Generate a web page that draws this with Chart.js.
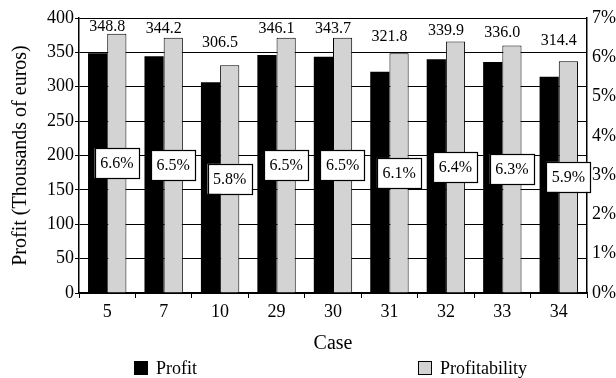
<!DOCTYPE html>
<html>
<head>
<meta charset="utf-8">
<script src="https://cdn.jsdelivr.net/npm/chart.js@4/dist/chart.umd.min.js"></script>
<style>
  html, body { margin: 0; padding: 0; background: #fff; }
  #wrap { width: 616px; height: 378px; }
</style>
</head>
<body>
<div id="wrap"><canvas id="chart" width="616" height="378"></canvas></div>
<script>
// Cases and their results
const cases = ['5', '7', '10', '29', '30', '31', '32', '33', '34'];
const profit = [348.8, 344.2, 306.5, 346.1, 343.7, 321.8, 339.9, 336.0, 314.4];   // thousands of euros
const profitability = [6.6, 6.5, 5.8, 6.5, 6.5, 6.1, 6.4, 6.3, 5.9];             // percent
const profitTicks = [0, 50, 100, 150, 200, 250, 300, 350, 400];
const percentTicks = [0, 1, 2, 3, 4, 5, 6, 7];

const SERIF = "'Liberation Serif'";
Chart.defaults.font.family = SERIF;
Chart.defaults.color = '#000';

// Value labels: profit above each pair, profitability boxed in the middle of the grey bar
const valueLabels = {
  id: 'valueLabels',
  afterDatasetsDraw(chart) {
    const ctx = chart.ctx;
    const area = chart.chartArea;
    const greyBars = chart.getDatasetMeta(1).data;
    const xScale = chart.scales.x;
    ctx.save();
    ctx.textAlign = 'center';
    ctx.textBaseline = 'middle';
    profit.forEach((v, i) => {
      const bar = greyBars[i];
      // profit value centred in the gap above the grey bar
      ctx.font = '16px ' + SERIF;
      ctx.fillStyle = '#000';
      ctx.fillText(v.toFixed(1), xScale.getPixelForValue(i), (area.top + bar.y) / 2 + 1);
      // profitability box
      const txt = profitability[i].toFixed(1) + '%';
      const w = ctx.measureText(txt).width + 11;
      const h = 30;
      const cy = (bar.y + bar.base) / 2;
      ctx.fillStyle = '#fff';
      ctx.fillRect(bar.x - w / 2, cy - h / 2, w, h);
      ctx.strokeStyle = '#000';
      ctx.lineWidth = 1.2;
      ctx.strokeRect(Math.round(bar.x - w / 2) + 0.5, Math.round(cy - h / 2) + 0.5, Math.round(w), h);
      ctx.fillStyle = '#000';
      ctx.fillText(txt, bar.x, cy + 1);
    });
    ctx.restore();
  }
};

// Legend drawn under the axis title, items spread across the plot width
const spreadLegend = {
  id: 'spreadLegend',
  afterDraw(chart) {
    const ctx = chart.ctx;
    const area = chart.chartArea;
    const y = chart.height - 10;
    const items = [
      { text: 'Profit', fill: '#000', x: area.left + 55 },
      { text: 'Profitability', fill: '#d3d3d3', x: area.left + 339 }
    ];
    ctx.save();
    ctx.font = '18px ' + SERIF;
    ctx.textBaseline = 'middle';
    ctx.textAlign = 'left';
    items.forEach(it => {
      ctx.fillStyle = it.fill;
      ctx.fillRect(it.x, y - 7, 14, 14);
      ctx.strokeStyle = '#000';
      ctx.lineWidth = 1;
      ctx.strokeRect(it.x + 0.5, y - 6.5, 13, 13);
      ctx.fillStyle = '#000';
      ctx.fillText(it.text, it.x + 22, y + 1);
    });
    ctx.restore();
  }
};

new Chart(document.getElementById('chart'), {
  type: 'bar',
  data: {
    labels: cases,
    datasets: [
      {
        label: 'Profit',
        data: profit,
        yAxisID: 'y',
        backgroundColor: '#000',
        borderWidth: 0
      },
      {
        label: 'Profitability',
        data: profitability,
        yAxisID: 'y1',
        backgroundColor: '#d3d3d3',
        borderColor: '#000',
        borderWidth: 1
      }
    ]
  },
  options: {
    responsive: false,
    devicePixelRatio: 1,
    animation: false,
    events: [],
    layout: { padding: { top: 18, left: 0, right: 0, bottom: 22 } },
    datasets: { bar: { categoryPercentage: 0.68, barPercentage: 1.0 } },
    plugins: {
      legend: { display: false },
      tooltip: { enabled: false }
    },
    scales: {
      x: {
        offset: true,
        grid: { offset: true, drawOnChartArea: false, drawTicks: true, tickLength: 5, color: '#000', lineWidth: 1 },
        border: { display: true, color: '#000', width: 1.5 },
        ticks: { font: { size: 18 }, color: '#000', padding: 3, maxRotation: 0 },
        title: { display: true, text: 'Case', font: { size: 20 }, color: '#000', padding: { top: 0, bottom: 0 } },
        afterFit(scale) { scale.height = 63; }
      },
      y: {
        position: 'left',
        min: 0,
        max: 400,
        afterBuildTicks(scale) { scale.ticks = profitTicks.map(v => ({ value: v })); },
        grid: { color: '#000', lineWidth: 1, drawTicks: true, tickLength: 4 },
        border: { display: true, color: '#000', width: 1.5 },
        ticks: { font: { size: 18 }, color: '#000', padding: 1 },
        title: { display: true, text: 'Profit (Thousands of euros)', font: { size: 20 }, color: '#000', padding: { top: 9, bottom: 0 } },
        afterFit(scale) { scale.width = 79; }
      },
      y1: {
        position: 'right',
        min: 0,
        max: 7,
        afterBuildTicks(scale) { scale.ticks = percentTicks.map(v => ({ value: v })); },
        grid: { drawOnChartArea: false, drawTicks: false },
        border: { display: true, color: '#000', width: 1.5 },
        ticks: { font: { size: 18 }, color: '#000', padding: 5, callback: v => v + '%' },
        afterFit(scale) { scale.width = 29; }
      }
    }
  },
  plugins: [valueLabels, spreadLegend]
});
</script>
</body>
</html>
